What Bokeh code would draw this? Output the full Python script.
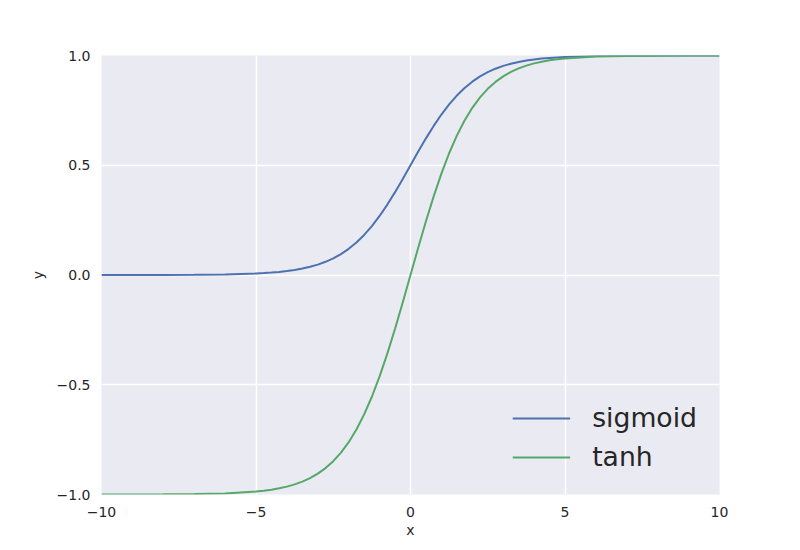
from bokeh.plotting import figure
from bokeh.models import FixedTicker, Legend, LegendItem
from bokeh.embed import file_html
from bokeh.resources import INLINE

# sample points
x_vals = [-10, -9, -8, -7, -6, -5, -4.75, -4.5, -4.25, -4, -3.75, -3.5, -3.25, -3,
          -2.75, -2.5, -2.25, -2, -1.75, -1.5, -1.25, -1, -0.75, -0.5, -0.25, 0,
          0.25, 0.5, 0.75, 1, 1.25, 1.5, 1.75, 2, 2.25, 2.5, 2.75, 3, 3.25, 3.5,
          3.75, 4, 4.25, 4.5, 4.75, 5, 6, 7, 8, 9, 10]
sig_half = [0.0000454, 0.000123, 0.000335, 0.000911, 0.00247, 0.00669, 0.00858, 0.0110,
            0.0141, 0.0180, 0.0230, 0.0293, 0.0373, 0.0474, 0.0601, 0.0759, 0.0953,
            0.1192, 0.1480, 0.1824, 0.2227, 0.2689, 0.3208, 0.3775, 0.4378]
tanh_half = [-0.99991, -0.99975, -0.99933, -0.99818, -0.99505, -0.98662, -0.98284,
             -0.97803, -0.97180, -0.96403, -0.95400, -0.94138, -0.92540, -0.90515,
             -0.87980, -0.84828, -0.80940, -0.76159, -0.70400, -0.63515, -0.55460,
             -0.46212, -0.35835, -0.24492, -0.12435]
sigmoid = sig_half + [0.5] + [1 - v for v in reversed(sig_half)]
tanh = tanh_half + [0.0] + [-v for v in reversed(tanh_half)]

p = figure(width=792, height=542, x_range=(-10, 10), y_range=(-1, 1),
           output_backend="svg", toolbar_location=None,
           min_border_left=101, min_border_right=73, min_border_top=55, min_border_bottom=48)
p.background_fill_color = "#EAEAF2"
p.outline_line_color = None
p.grid.grid_line_color = "white"
p.grid.grid_line_width = 1.5

p.xaxis.ticker = FixedTicker(ticks=[-10, -5, 0, 5, 10])
p.yaxis.ticker = FixedTicker(ticks=[-1, -0.5, 0, 0.5, 1])
p.xaxis.major_label_overrides = {-10: "\u221210", -5: "\u22125", 0: "0", 5: "5", 10: "10"}
p.yaxis.major_label_overrides = {-1: "\u22121.0", -0.5: "\u22120.5", 0: "0.0", 0.5: "0.5", 1: "1.0"}
for ax in (p.xaxis, p.yaxis):
    ax.axis_line_color = None
    ax.major_tick_line_color = None
    ax.minor_tick_line_color = None
    ax.major_label_text_font = "DejaVu Sans"
    ax.major_label_text_font_size = "10.5pt"
    ax.major_label_text_color = "#262626"
    ax.axis_label_text_font = "DejaVu Sans"
    ax.axis_label_text_font_size = "10.5pt"
    ax.axis_label_text_font_style = "normal"
    ax.axis_label_text_color = "#262626"
p.xaxis.axis_label = "x"
p.yaxis.axis_label = "y"
p.xaxis.major_label_standoff = 6
p.yaxis.major_label_standoff = 5
p.xaxis.axis_label_standoff = 2
p.yaxis.axis_label_standoff = 8

r1 = p.line(x_vals, sigmoid, line_color="#4C72B0", line_width=2)
r2 = p.line(x_vals, tanh, line_color="#55A868", line_width=2)

legend = Legend(items=[LegendItem(label="sigmoid", renderers=[r1]),
                       LegendItem(label="tanh", renderers=[r2])],
                location="bottom_right", border_line_color=None,
                background_fill_alpha=0, label_text_font="DejaVu Sans",
                label_text_font_size="20pt", label_text_color="#262626",
                glyph_width=58, label_standoff=22, spacing=8, margin=22)
p.add_layout(legend)

open("out.html", "w").write(file_html(p, INLINE))
